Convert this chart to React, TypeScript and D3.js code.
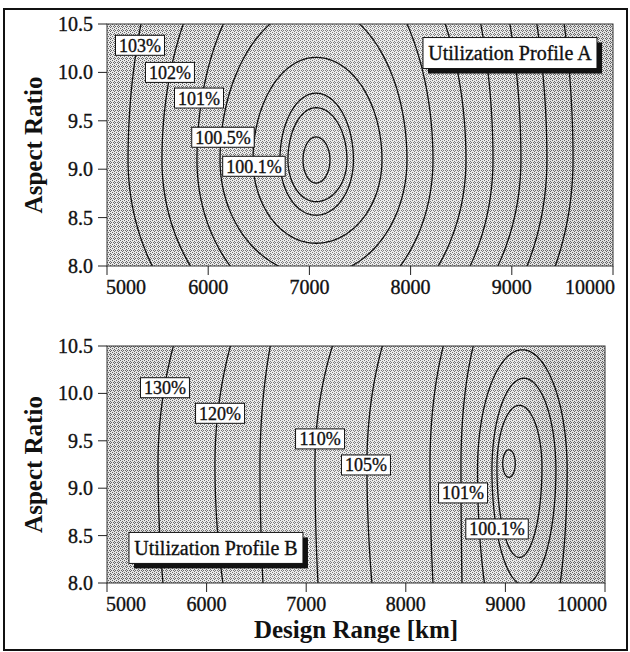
import React from 'react';
import * as d3 from 'd3';

// ---------- shared axis data ----------
const xTicks = [5000, 6000, 7000, 8000, 9000, 10000];
const yTicks = [8.0, 8.5, 9.0, 9.5, 10.0, 10.5];
const xDomain = [5000, 10000];
const yDomain = [8.0, 10.5];

// ---------- Utilization Profile A : contour rings (data units) ----------
const levelsA = ['100.01%', '100.03%', '100.05%', '100.1%', '100.5%', '101%', '102%', '103%', '104%', '105%', '106%'];
const ringCxA = [7065, 7065, 7065, 7065, 7065, 7065, 7065, 7065, 7065, 7065, 7065];
const ringCyA = [9.095, 9.095, 9.095, 9.095, 9.095, 9.095, 9.095, 9.095, 9.095, 9.095, 9.095];
const ringLeftA = [128, 277, 356, 622, 948, 1176, 1522, 1857, 2700, 3100, 3500];
const ringRightA = [138, 306, 370, 652, 899, 1156, 1482, 1749, 2025, 2282, 2540];
const ringTopA = [0.238, 0.54, 0.69, 1.06, 1.6, 2.24, 2.77, 3.85, 4.35, 4.8, 5.4];
const ringBottomA = [0.238, 0.43, 0.57, 0.86, 1.19, 1.58, 1.89, 2.23, 2.38, 2.7, 3.0];
const labelTextA = ['103%', '102%', '101%', '100.5%', '100.1%'];
const labelXA = [5326, 5622, 5909, 6146, 6452];
const labelYA = [10.28, 10.0, 9.735, 9.33, 9.03];
// background shading (lightness along the range axis, 0 = base grey)
const shadeXA = [5000, 6000, 7000, 7800, 8800, 10000];
const shadeA = [0.0, 0.06, 0.16, 0.18, 0.08, -0.04];

// ---------- Utilization Profile B : contour rings (data units) ----------
const levelsB = ['100.01%', '100.05%', '100.1%', '100.5%', '101%', '103%', '105%', '110%', '115%', '120%', '130%'];
const ringCxB = [9036, 9141, 9186, 9170, 9036, 9036, 9036, 9036, 9036, 9036, 9036];
const ringCyB = [9.26, 9.22, 9.19, 9.19, 9.25, 9.25, 9.25, 9.25, 9.25, 9.25, 9.25];
const ringLeftB = [63, 226, 321, 450, 482, 793, 1426, 1948, 2500, 2952, 3524];
const ringRightB = [63, 226, 321, 450, 1500, 1800, 2800, 3900, 5000, 5900, 7000];
const ringTopB = [0.145, 0.654, 0.97, 1.27, 1.87, 2.25, 2.76, 3.01, 4.4, 3.91, 4.27];
const ringBottomB = [0.145, 0.95, 1.21, 2.23, 6.2, 4.6, 4.77, 7.17, 8.1, 5.42, 7.47];
const labelTextB = ['130%', '120%', '110%', '105%', '101%', '100.1%'];
const labelXB = [5582, 6135, 7139, 7600, 8575, 8916];
const labelYB = [10.06, 9.79, 9.52, 9.245, 8.95, 8.57];
const shadeXB = [5000, 5800, 7000, 8000, 8600, 9150, 9700, 10000];
const shadeB = [-0.02, 0.06, 0.16, 0.12, 0.05, 0.14, -0.03, -0.06];

const FONT = '"Liberation Serif", "Times New Roman", Times, serif';
const INK = '#111';

function textWidth(s: string, size: number) {
  let w = 0;
  for (const ch of s) {
    if (ch === '%') w += 0.833;
    else if (ch === '.') w += 0.25;
    else w += 0.5;
  }
  return w * size;
}

type PanelProps = {
  id: string;
  left: number;
  right: number;
  top: number;
  bottom: number;
  cx: number[];
  cy: number[];
  rl: number[];
  rr: number[];
  rt: number[];
  rb: number[];
  labels: string[];
  lx: number[];
  ly: number[];
  shadeX: number[];
  shade: number[];
  profile: string;
  profileX: number;
  profileY: number;
};

function Panel(p: PanelProps) {
  const xs = d3.scaleLinear().domain(xDomain).range([p.left, p.right]);
  const ys = d3.scaleLinear().domain(yDomain).range([p.bottom, p.top]);
  const line = d3.line<[number, number]>().curve(d3.curveLinearClosed);
  const paths = p.cx.map((cx, i) => {
    const pts: [number, number][] = d3.range(0, 360, 1).map((deg) => {
      const t = (deg * Math.PI) / 180;
      const c = Math.cos(t);
      const s = Math.sin(t);
      const x = cx + (c >= 0 ? p.rr[i] : p.rl[i]) * c;
      const y = p.cy[i] + (s >= 0 ? p.rt[i] : p.rb[i]) * s;
      return [xs(x), ys(y)];
    });
    return line(pts) as string;
  });
  const fs = 18;
  const pfs = 20;
  const pw = 174;
  const ph = 31;
  const pcx = xs(p.profileX);
  const pcy = ys(p.profileY);
  const textStroke = { stroke: INK, strokeWidth: 0.35 };
  const gid = `shade-${p.id}`;
  return (
    <g>
      <defs>
        <clipPath id={`clip-${p.id}`}>
          <rect x={p.left} y={p.top} width={p.right - p.left} height={p.bottom - p.top} />
        </clipPath>
        <linearGradient id={gid} gradientUnits="userSpaceOnUse" x1={p.left} x2={p.right} y1={0} y2={0}>
          {p.shadeX.map((sx, i) => {
            const v = p.shade[i];
            const off = (xs(sx) - p.left) / (p.right - p.left);
            return (
              <stop
                key={i}
                offset={off}
                stopColor={v >= 0 ? '#fff' : '#000'}
                stopOpacity={Math.abs(v)}
              />
            );
          })}
        </linearGradient>
      </defs>
      <rect
        x={p.left}
        y={p.top}
        width={p.right - p.left}
        height={p.bottom - p.top}
        fill="url(#halftone)"
      />
      <rect
        x={p.left}
        y={p.top}
        width={p.right - p.left}
        height={p.bottom - p.top}
        fill={`url(#${gid})`}
      />
      <g clipPath={`url(#clip-${p.id})`}>
        {paths.map((d, i) => (
          <path key={i} d={d} fill="none" stroke={INK} strokeWidth={1.3} />
        ))}
      </g>
      <rect
        x={p.left}
        y={p.top}
        width={p.right - p.left}
        height={p.bottom - p.top}
        fill="none"
        stroke="#333"
        strokeWidth={1}
      />
      {/* y axis */}
      {yTicks.map((t) => (
        <g key={`y${t}`}>
          <line x1={p.left - 9} x2={p.left} y1={ys(t)} y2={ys(t)} stroke="#222" strokeWidth={1} />
          <text
            x={p.left - 14}
            y={ys(t) + 7}
            textAnchor="end"
            fontFamily={FONT}
            fontSize={20}
            fill={INK}
            {...textStroke}
          >
            {d3.format('.1f')(t)}
          </text>
        </g>
      ))}
      {/* x axis */}
      {xTicks.map((t, i) => {
        const anchor = i === 0 ? 'start' : i === xTicks.length - 1 ? 'end' : 'middle';
        const dx = i === 0 ? -1 : i === xTicks.length - 1 ? 2 : 0;
        return (
          <g key={`x${t}`}>
            <line x1={xs(t)} x2={xs(t)} y1={p.bottom} y2={p.bottom + 9} stroke="#222" strokeWidth={1} />
            <text
              x={xs(t) + dx}
              y={p.bottom + 28}
              textAnchor={anchor}
              fontFamily={FONT}
              fontSize={20}
              fill={INK}
              {...textStroke}
            >
              {t}
            </text>
          </g>
        );
      })}
      <text
        transform={`translate(${42},${(p.top + p.bottom) / 2}) rotate(-90)`}
        textAnchor="middle"
        fontFamily={FONT}
        fontWeight="bold"
        fontSize={25}
        fill={INK}
      >
        Aspect Ratio
      </text>
      {/* contour labels */}
      {p.labels.map((s, i) => {
        const w = textWidth(s, fs) + 7;
        const h = 20;
        const x = xs(p.lx[i]);
        const y = ys(p.ly[i]);
        return (
          <g key={`l${i}`}>
            <rect x={x - w / 2} y={y - h / 2} width={w} height={h} fill="#fff" stroke={INK} strokeWidth={1} />
            <text x={x} y={y + 6.5} textAnchor="middle" fontFamily={FONT} fontSize={fs} fill={INK} {...textStroke}>
              {s}
            </text>
          </g>
        );
      })}
      {/* profile label with shadow */}
      <rect x={pcx - pw / 2 + 5} y={pcy - ph / 2 + 5} width={pw} height={ph} fill={INK} />
      <rect x={pcx - pw / 2} y={pcy - ph / 2} width={pw} height={ph} fill="#fff" stroke={INK} strokeWidth={1} />
      <text x={pcx} y={pcy + 7} textAnchor="middle" fontFamily={FONT} fontSize={pfs} fill={INK} {...textStroke}>
        {p.profile}
      </text>
    </g>
  );
}

export default function App() {
  return (
    <svg
      width={630}
      height={652}
      style={{ position: 'absolute', left: 0, top: 0, background: '#fff' }}
    >
      <defs>
        <pattern id="halftone" x={0} y={0} width={4} height={4} patternUnits="userSpaceOnUse">
          <rect x={0} y={0} width={4} height={4} fill="#e8e8e8" />
          <rect x={0} y={0} width={1} height={1} fill="#666" />
          <rect x={2} y={1} width={1} height={1} fill="#666" />
          <rect x={1} y={2} width={1} height={1} fill="#666" />
          <rect x={3} y={2} width={1} height={1} fill="#666" />
          <rect x={2} y={3} width={1} height={1} fill="#666" />
        </pattern>
      </defs>
      <rect x={4} y={9} width={623} height={641} fill="none" stroke={INK} strokeWidth={2} />
      <Panel
        id="A"
        left={107}
        right={613}
        top={24}
        bottom={266}
        cx={ringCxA}
        cy={ringCyA}
        rl={ringLeftA}
        rr={ringRightA}
        rt={ringTopA}
        rb={ringBottomA}
        labels={labelTextA}
        lx={labelXA}
        ly={labelYA}
        shadeX={shadeXA}
        shade={shadeA}
        profile="Utilization Profile A"
        profileX={8982}
        profileY={10.2}
      />
      <Panel
        id="B"
        left={107}
        right={605}
        top={346}
        bottom={583}
        cx={ringCxB}
        cy={ringCyB}
        rl={ringLeftB}
        rr={ringRightB}
        rt={ringTopB}
        rb={ringBottomB}
        labels={labelTextB}
        lx={labelXB}
        ly={labelYB}
        shadeX={shadeXB}
        shade={shadeB}
        profile="Utilization Profile B"
        profileX={6094}
        profileY={8.37}
      />
      <text
        x={356}
        y={638}
        textAnchor="middle"
        fontFamily={FONT}
        fontWeight="bold"
        fontSize={25}
        fill={INK}
      >
        Design Range [km]
      </text>
    </svg>
  );
}
